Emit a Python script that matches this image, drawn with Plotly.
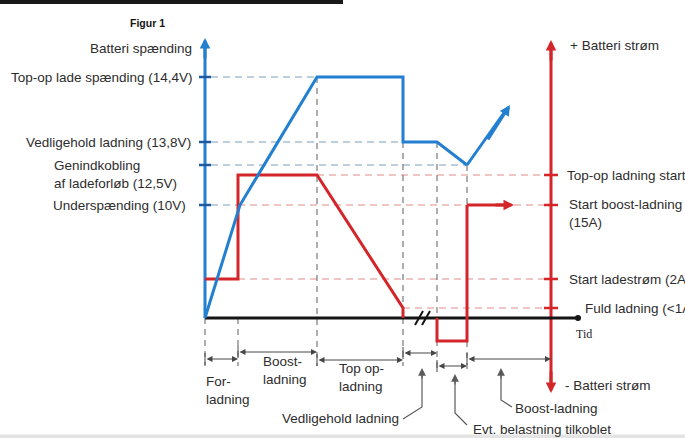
import plotly.graph_objects as go

# ---------------- data (schematic units: x = time position, y = level row) ----------------
volt_labels = ["Top-op lade spænding (14,4V)", "Vedligehold ladning (13,8V)", "Underspænding (10V)"]
volt_levels = [77, 142, 205]
volt_label_right = [195, 193, 188]
genind_label = "Genindkobling<br>af ladeforløb (12,5V)"
genind_level = 165

curr_labels = ["Top-op ladning start", "Start boost-ladning<br>(15A)", "Start ladestrøm (2A)", "Fuld ladning (<1A)"]
curr_levels = [175, 205, 279, 308]
curr_label_x = [565, 567, 567, 583]

axis_y = 318
v_axis_x = 205
i_axis_x = 551
t_axis_end = 578

blue_x = [205, 240, 317, 403, 403, 437, 467, 510]
blue_y = [318, 205, 77, 77, 142, 142, 165, 105]

red1_x = [205, 238, 238, 317, 403, 403]
red1_y = [279, 279, 175, 175, 308, 318]
red2_x = [437, 437, 467, 467, 514]
red2_y = [318, 341, 341, 205, 205]

# phase boundary verticals: (x, top row)
phase_x = [205, 238, 317, 403, 437, 467]
phase_top = [318, 318, 77, 142, 142, 165]
phase_bottom = [366, 366, 366, 366, 372, 372]

# horizontal helper lines: (row, x start, x end, kind)
hl_rows = [77, 142, 165, 205, 205, 175, 279, 308]
hl_x0 = [211, 211, 211, 211, 238, 317, 238, 403]
hl_x1 = [317, 403, 467, 238, 545, 545, 545, 545]
hl_kind = ["v", "v", "v", "v", "i", "i", "i", "i"]

# phase dimension arrows
dim_x0 = [205, 238, 317, 403, 437, 467]
dim_x1 = [238, 317, 403, 437, 467, 551]
dim_y = [359, 352, 360, 353, 366, 359]
phase_text = ["For-<br>ladning", "Boost-<br>ladning", "Top op-<br>ladning"]
phase_text_x = [204, 261, 337]
phase_text_y = [390, 370, 377]

# callouts: arrow tip x, tip y, knee y, text end x, text y, text
call_x = [422, 455, 501]
call_tip = [368, 374, 368]
call_knee = [407, 413, 400]
call_end_x = [403, 467, 512]
call_end_y = [419, 425, 407]
call_text = ["Vedligehold ladning", "Evt. belastning tilkoblet", "Boost-ladning"]
call_text_x = [401, 471, 513]
call_text_y = [418, 429, 408]
call_anchor = ["right", "left", "left"]

BLUE = "rgb(35,127,208)"
RED = "rgb(212,38,42)"
TXT = "rgb(45,45,45)"
GRAY = "rgb(120,120,120)"
DV = "rgb(168,190,210)"
DI = "rgb(236,178,178)"
FONT = "Liberation Sans, Arial, sans-serif"
FS = 13.5

fig = go.Figure()

def line(xs, ys, color, width, dash="solid"):
    fig.add_trace(go.Scatter(x=xs, y=ys, mode="lines", hoverinfo="skip",
                             line=dict(color=color, width=width, dash=dash)))

# top decorative bar & bottom strip
line([0, 343], [2, 2], "rgb(25,25,25)", 4)
line([0, 685], [436.5, 436.5], "rgb(228,228,228)", 4)

# horizontal dashed helpers
for r, a, b, k in zip(hl_rows, hl_x0, hl_x1, hl_kind):
    line([a, b], [r, r], DV if k == "v" else DI, 1.5, "7px,5px")

# vertical dashed phase boundaries
for x, t, b in zip(phase_x, phase_top, phase_bottom):
    line([x, x], [t, b], GRAY, 1.2, "6px,5px")

# axes
line([v_axis_x, v_axis_x], [axis_y, 48], BLUE, 3)
line([i_axis_x, i_axis_x], [50, 384], RED, 3)
line([v_axis_x, t_axis_end], [axis_y, axis_y], "rgb(20,20,20)", 3)

# ticks
for r in volt_levels + [genind_level]:
    line([v_axis_x - 6, v_axis_x + 6], [r, r], "rgb(30,90,160)", 2.5)
for r in curr_levels:
    line([i_axis_x - 7, i_axis_x + 7], [r, r], RED, 2.5)

# break mark on time axis
line([415, 423], [325, 311], "rgb(20,20,20)", 2)
line([422, 430], [325, 311], "rgb(20,20,20)", 2)

# curves
line(red1_x, red1_y, RED, 3)
line(red2_x[:-1], red2_y[:-1], RED, 3)
line(red2_x[-2:-1] + [red2_x[-1] - 6], red2_y[-2:], RED, 3)
line(blue_x[:-1], blue_y[:-1], BLUE, 3)
line([blue_x[-2], blue_x[-1] - 4], [blue_y[-2], blue_y[-1] + 5], BLUE, 3)

# dimension arrows
for a, b, y in zip(dim_x0, dim_x1, dim_y):
    line([a, a], [y - 6, y + 6], "rgb(70,70,70)", 1)
    fig.add_annotation(x=b, y=y, ax=a, ay=y, xref="x", yref="y", axref="x", ayref="y",
                       text="", showarrow=True, arrowhead=2, startarrowhead=2,
                       arrowside="end+start", arrowsize=1.2, arrowwidth=1,
                       arrowcolor="rgb(70,70,70)")

# callouts
for cx, tip, knee, ex, ey in zip(call_x, call_tip, call_knee, call_end_x, call_end_y):
    line([ex, cx, cx], [ey, knee, tip + 6], "rgb(90,90,90)", 1.2)
    fig.add_annotation(x=cx, y=tip, ax=cx, ay=tip + 12, xref="x", yref="y", axref="x", ayref="y",
                       text="", showarrow=True, arrowhead=2, arrowsize=1.3, arrowwidth=1.2,
                       arrowcolor="rgb(90,90,90)")

# arrowheads on axes and curves
def head(x, y, ax, ay, color, w=3, s=0.7):
    fig.add_annotation(x=x, y=y, ax=ax, ay=ay, xref="x", yref="y", axref="x", ayref="y",
                       text="", showarrow=True, arrowhead=2, arrowsize=s, arrowwidth=w,
                       arrowcolor=color)

head(v_axis_x, 38, v_axis_x, 60, BLUE)
head(i_axis_x, 40, i_axis_x, 62, RED)
head(i_axis_x, 393, i_axis_x, 370, RED)
head(blue_x[-1], blue_y[-1], blue_x[-2] + 20, blue_y[-2] - 24, BLUE)
head(red2_x[-1], red2_y[-1], red2_x[-1] - 20, red2_y[-1], RED)
fig.add_trace(go.Scatter(x=[t_axis_end], y=[axis_y], mode="markers", hoverinfo="skip",
                         marker=dict(color="rgb(20,20,20)", size=6)))

def text(x, y, s, anchor="left", size=FS, color=TXT, family=FONT):
    fig.add_annotation(x=x, y=y, xref="x", yref="y", text=s, showarrow=False,
                       xanchor=anchor, yanchor="middle", align=anchor,
                       font=dict(family=family, size=size, color=color))

text(147, 23, "<b>Figur 1</b>", "center", 10.5, "rgb(20,20,20)")
text(194, 48, "Batteri spænding", "right")
for s, r, xr in zip(volt_labels, volt_levels, volt_label_right):
    text(xr, r, s, "right")
text(52, 174, genind_label, "left")
text(568, 45, "+ Batteri strøm", "left")
for s, r, xl in zip(curr_labels, curr_levels, curr_label_x):
    text(xl, r + (8 if "<br>" in s else 0), s, "left")
text(574, 334, "Tid", "left", 12, "rgb(30,30,30)", "Liberation Serif, Times New Roman, serif")
text(563, 385, "- Batteri strøm", "left")
for s, x, y in zip(phase_text, phase_text_x, phase_text_y):
    text(x, y, s, "left")
for s, x, y, a in zip(call_text, call_text_x, call_text_y, call_anchor):
    text(x, y, s, a)

fig.update_layout(width=685, height=438, margin=dict(l=0, r=0, t=0, b=0),
                  paper_bgcolor="white", plot_bgcolor="white", showlegend=False,
                  xaxis=dict(range=[0, 685], visible=False, fixedrange=True),
                  yaxis=dict(range=[438, 0], visible=False, fixedrange=True))
fig.write_html("out.html", config={"displayModeBar": False},
               post_script="document.body.style.margin='0';document.body.style.overflow='hidden';")
